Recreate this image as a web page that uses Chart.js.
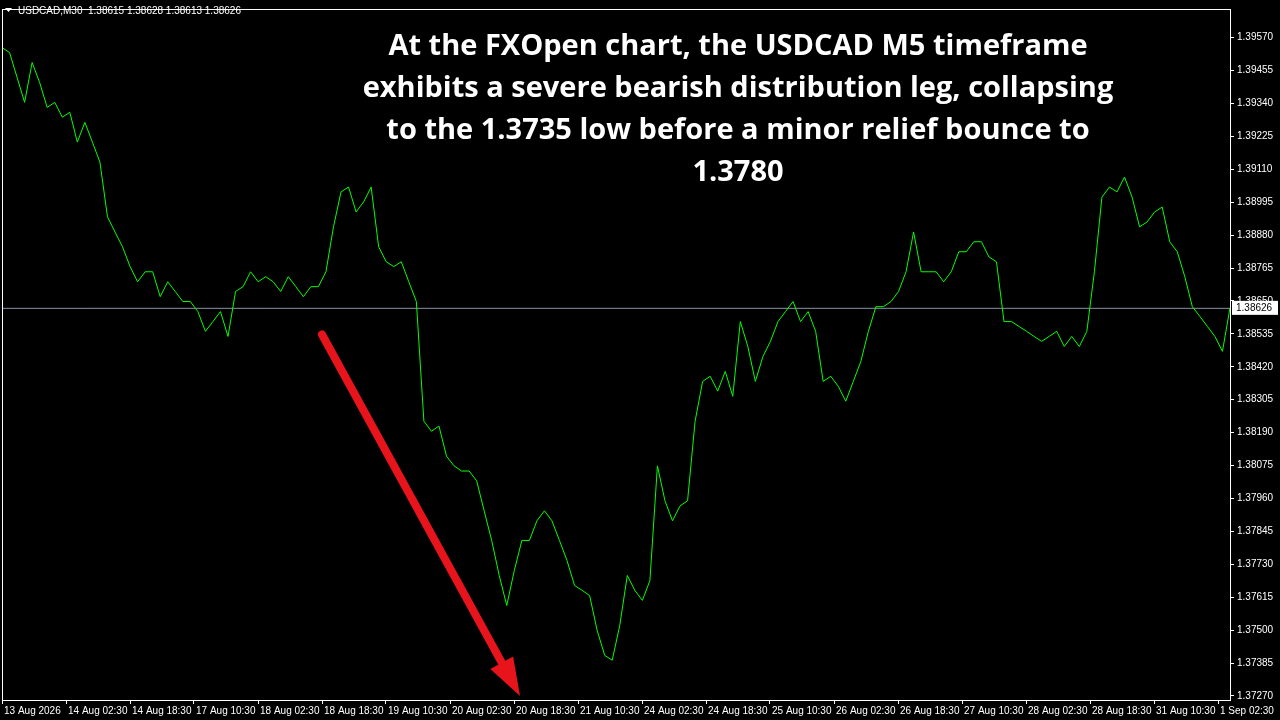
<!DOCTYPE html>
<html>
<head>
<meta charset="utf-8">
<script src="https://cdn.jsdelivr.net/npm/chart.js@4"></script>
<style>
  html, body { margin: 0; padding: 0; background: #000; }
  #wrap { width: 1280px; height: 720px; }
</style>
</head>
<body>
<div id="wrap"><canvas id="myChart"></canvas></div>
<script>
// USDCAD M30 closes
const closes = [
  1.39535, 1.39518, 1.39431, 1.39344, 1.39483, 1.39413, 1.39326, 1.39344, 1.39292, 1.39309,
  1.39205, 1.39274, 1.39205, 1.39135, 1.38944, 1.38891, 1.38839, 1.38770, 1.38717, 1.38752,
  1.38752, 1.38665, 1.38717, 1.38683, 1.38648, 1.38648, 1.38613, 1.38544, 1.38578, 1.38613,
  1.38526, 1.38683, 1.38700, 1.38752, 1.38717, 1.38735, 1.38717, 1.38683, 1.38735, 1.38700,
  1.38665, 1.38700, 1.38700, 1.38752, 1.38909, 1.39031, 1.39048, 1.38961, 1.38996, 1.39048,
  1.38839, 1.38787, 1.38770, 1.38787, 1.38717, 1.38648, 1.38230, 1.38195, 1.38213, 1.38108,
  1.38074, 1.38056, 1.38056, 1.38022, 1.37917, 1.37813, 1.37691, 1.37586, 1.37708, 1.37813,
  1.37813, 1.37882, 1.37917, 1.37882, 1.37813, 1.37743, 1.37656, 1.37639, 1.37621, 1.37499,
  1.37412, 1.37395, 1.37517, 1.37691, 1.37639, 1.37604, 1.37673, 1.38074, 1.37952, 1.37882,
  1.37934, 1.37952, 1.38230, 1.38369, 1.38387, 1.38335, 1.38404, 1.38317, 1.38578, 1.38491,
  1.38369, 1.38456, 1.38509, 1.38578, 1.38613, 1.38648, 1.38578, 1.38613, 1.38544, 1.38369,
  1.38387, 1.38352, 1.38300, 1.38369, 1.38439, 1.38544, 1.38630, 1.38630, 1.38648, 1.38683,
  1.38752, 1.38891, 1.38752, 1.38752, 1.38752, 1.38717, 1.38752, 1.38822, 1.38822, 1.38857,
  1.38857, 1.38804, 1.38787, 1.38578, 1.38578, 1.38561, 1.38544, 1.38526, 1.38509, 1.38526,
  1.38544, 1.38491, 1.38526, 1.38491, 1.38544, 1.38752, 1.39013, 1.39048, 1.39031, 1.39083,
  1.39013, 1.38909, 1.38926, 1.38961, 1.38978, 1.38857, 1.38822, 1.38735, 1.38630, 1.38596,
  1.38561, 1.38526, 1.38474, 1.38626
];

const timeLabels = [
  "13 Aug 2026", "14 Aug 02:30", "14 Aug 18:30", "17 Aug 10:30", "18 Aug 02:30",
  "18 Aug 18:30", "19 Aug 10:30", "20 Aug 02:30", "20 Aug 18:30", "21 Aug 10:30",
  "24 Aug 02:30", "24 Aug 18:30", "25 Aug 10:30", "26 Aug 02:30", "26 Aug 18:30",
  "27 Aug 10:30", "28 Aug 02:30", "28 Aug 18:30", "31 Aug 10:30", "1 Sep 02:30"
];
const barsPerLabel = 16;
const totalBars = 307;

const priceTicks = [
  1.39570, 1.39455, 1.39340, 1.39225, 1.39110, 1.38995, 1.38880, 1.38765, 1.38650, 1.38535,
  1.38420, 1.38305, 1.38190, 1.38075, 1.37960, 1.37845, 1.37730, 1.37615, 1.37500, 1.37385, 1.37270
];
const lastPrice = 1.38626;
const header = "USDCAD,M30  1.38615 1.38628 1.38613 1.38626";
const titleLines = [
  "At the FXOpen chart, the USDCAD M5 timeframe",
  "exhibits a severe bearish distribution leg, collapsing",
  "to the 1.3735 low before a minor relief bounce to",
  "1.3780"
];
// arrow in (bar, price)
const arrowFrom = [80, 1.38533];
const arrowTo = [129.5, 1.37270];

const overlay = {
  id: "overlay",
  beforeDatasetsDraw(chart) {
    const { ctx, chartArea: a, scales } = chart;
    const y = scales.y.getPixelForValue(lastPrice);
    ctx.save();
    ctx.strokeStyle = "#8a94a6";
    ctx.lineWidth = 1;
    ctx.beginPath();
    ctx.moveTo(a.left, y + 0.5);
    ctx.lineTo(a.right, y + 0.5);
    ctx.stroke();
    ctx.restore();
  },
  afterDraw(chart) {
    const { ctx, chartArea: a, scales } = chart;
    ctx.save();
    ctx.strokeStyle = "#fff";
    ctx.lineWidth = 1;
    ctx.strokeRect(a.left + 0.5, a.top + 0.5, a.right - a.left, a.bottom - a.top);

    ctx.fillStyle = "#fff";
    ctx.font = "10px 'Liberation Sans'";
    ctx.textBaseline = "middle";
    ctx.textAlign = "left";
    ctx.beginPath();
    ctx.moveTo(5, 8); ctx.lineTo(12, 8); ctx.lineTo(8.5, 12); ctx.closePath(); ctx.fill();
    ctx.fillText(header, 18, 11);

    // last price box
    const y = scales.y.getPixelForValue(lastPrice);
    ctx.fillRect(a.right + 2, y - 7, 46, 14);
    ctx.fillStyle = "#000";
    ctx.font = "10px 'Liberation Sans'";
    ctx.fillText("1.38626", a.right + 6, y);

    // arrow
    const x1 = scales.t.getPixelForValue(arrowFrom[0]), y1 = scales.y.getPixelForValue(arrowFrom[1]);
    const x2 = scales.t.getPixelForValue(arrowTo[0]), y2 = scales.y.getPixelForValue(arrowTo[1]);
    const ang = Math.atan2(y2 - y1, x2 - x1);
    const head = 38;
    const bx = x2 - head * Math.cos(ang), by = y2 - head * Math.sin(ang);
    ctx.strokeStyle = "#e8141c";
    ctx.fillStyle = "#e8141c";
    ctx.lineWidth = 8;
    ctx.lineCap = "round";
    ctx.beginPath(); ctx.moveTo(x1, y1); ctx.lineTo(bx, by); ctx.stroke();
    ctx.beginPath();
    ctx.moveTo(x2, y2);
    ctx.lineTo(bx + 13 * Math.sin(ang), by - 13 * Math.cos(ang));
    ctx.lineTo(bx - 13 * Math.sin(ang), by + 13 * Math.cos(ang));
    ctx.closePath(); ctx.fill();

    // title
    ctx.fillStyle = "#fff";
    ctx.font = "bold 29px 'Open Sans'";
    ctx.textAlign = "center";
    titleLines.forEach((t, i) => ctx.fillText(t, 738, 47 + i * 42));
    ctx.restore();
  }
};

const ctx = document.getElementById("myChart").getContext("2d");
const chart = new Chart(ctx, {
  type: "line",
  data: {
    labels: closes.map((c, i) => i),
    datasets: [{
      data: closes,
      borderColor: "#00ff00",
      borderWidth: 1,
      pointRadius: 0,
      tension: 0,
      xAxisID: "x",
      yAxisID: "y"
    }]
  },
  options: {
    responsive: true,
    maintainAspectRatio: false,
    animation: false,
    layout: { padding: { left: 2, top: 6, right: 0, bottom: 0 } },
    plugins: { legend: { display: false }, tooltip: { enabled: false } },
    scales: {
      x: { type: "category", display: false, offset: false },
      t: {
        type: "linear",
        position: "bottom",
        min: 0,
        max: totalBars,
        afterBuildTicks: s => { s.ticks = timeLabels.map((l, i) => ({ value: i * barsPerLabel })); },
        afterFit: s => { s.height = 20; },
        border: { color: "#fff" },
        grid: { drawOnChartArea: false, color: "#fff", tickLength: 4 },
        ticks: {
          color: "#fff",
          font: { family: "Liberation Sans", size: 10 },
          align: "start",
          labelOffset: 2,
          maxRotation: 0,
          autoSkip: false,
          padding: 1,
          callback: (v, i) => timeLabels[i]
        }
      },
      y: {
        position: "right",
        min: 1.37256,
        max: 1.39670,
        afterBuildTicks: s => { s.ticks = priceTicks.map(v => ({ value: v })); },
        afterFit: s => { s.width = 50; },
        border: { color: "#fff" },
        grid: { drawOnChartArea: false, color: "#fff", tickLength: 4 },
        ticks: {
          color: "#fff",
          font: { family: "Liberation Sans", size: 10 },
          padding: 3,
          autoSkip: false,
          callback: v => v.toFixed(5)
        }
      }
    }
  },
  plugins: [overlay]
});
</script>
</body>
</html>
